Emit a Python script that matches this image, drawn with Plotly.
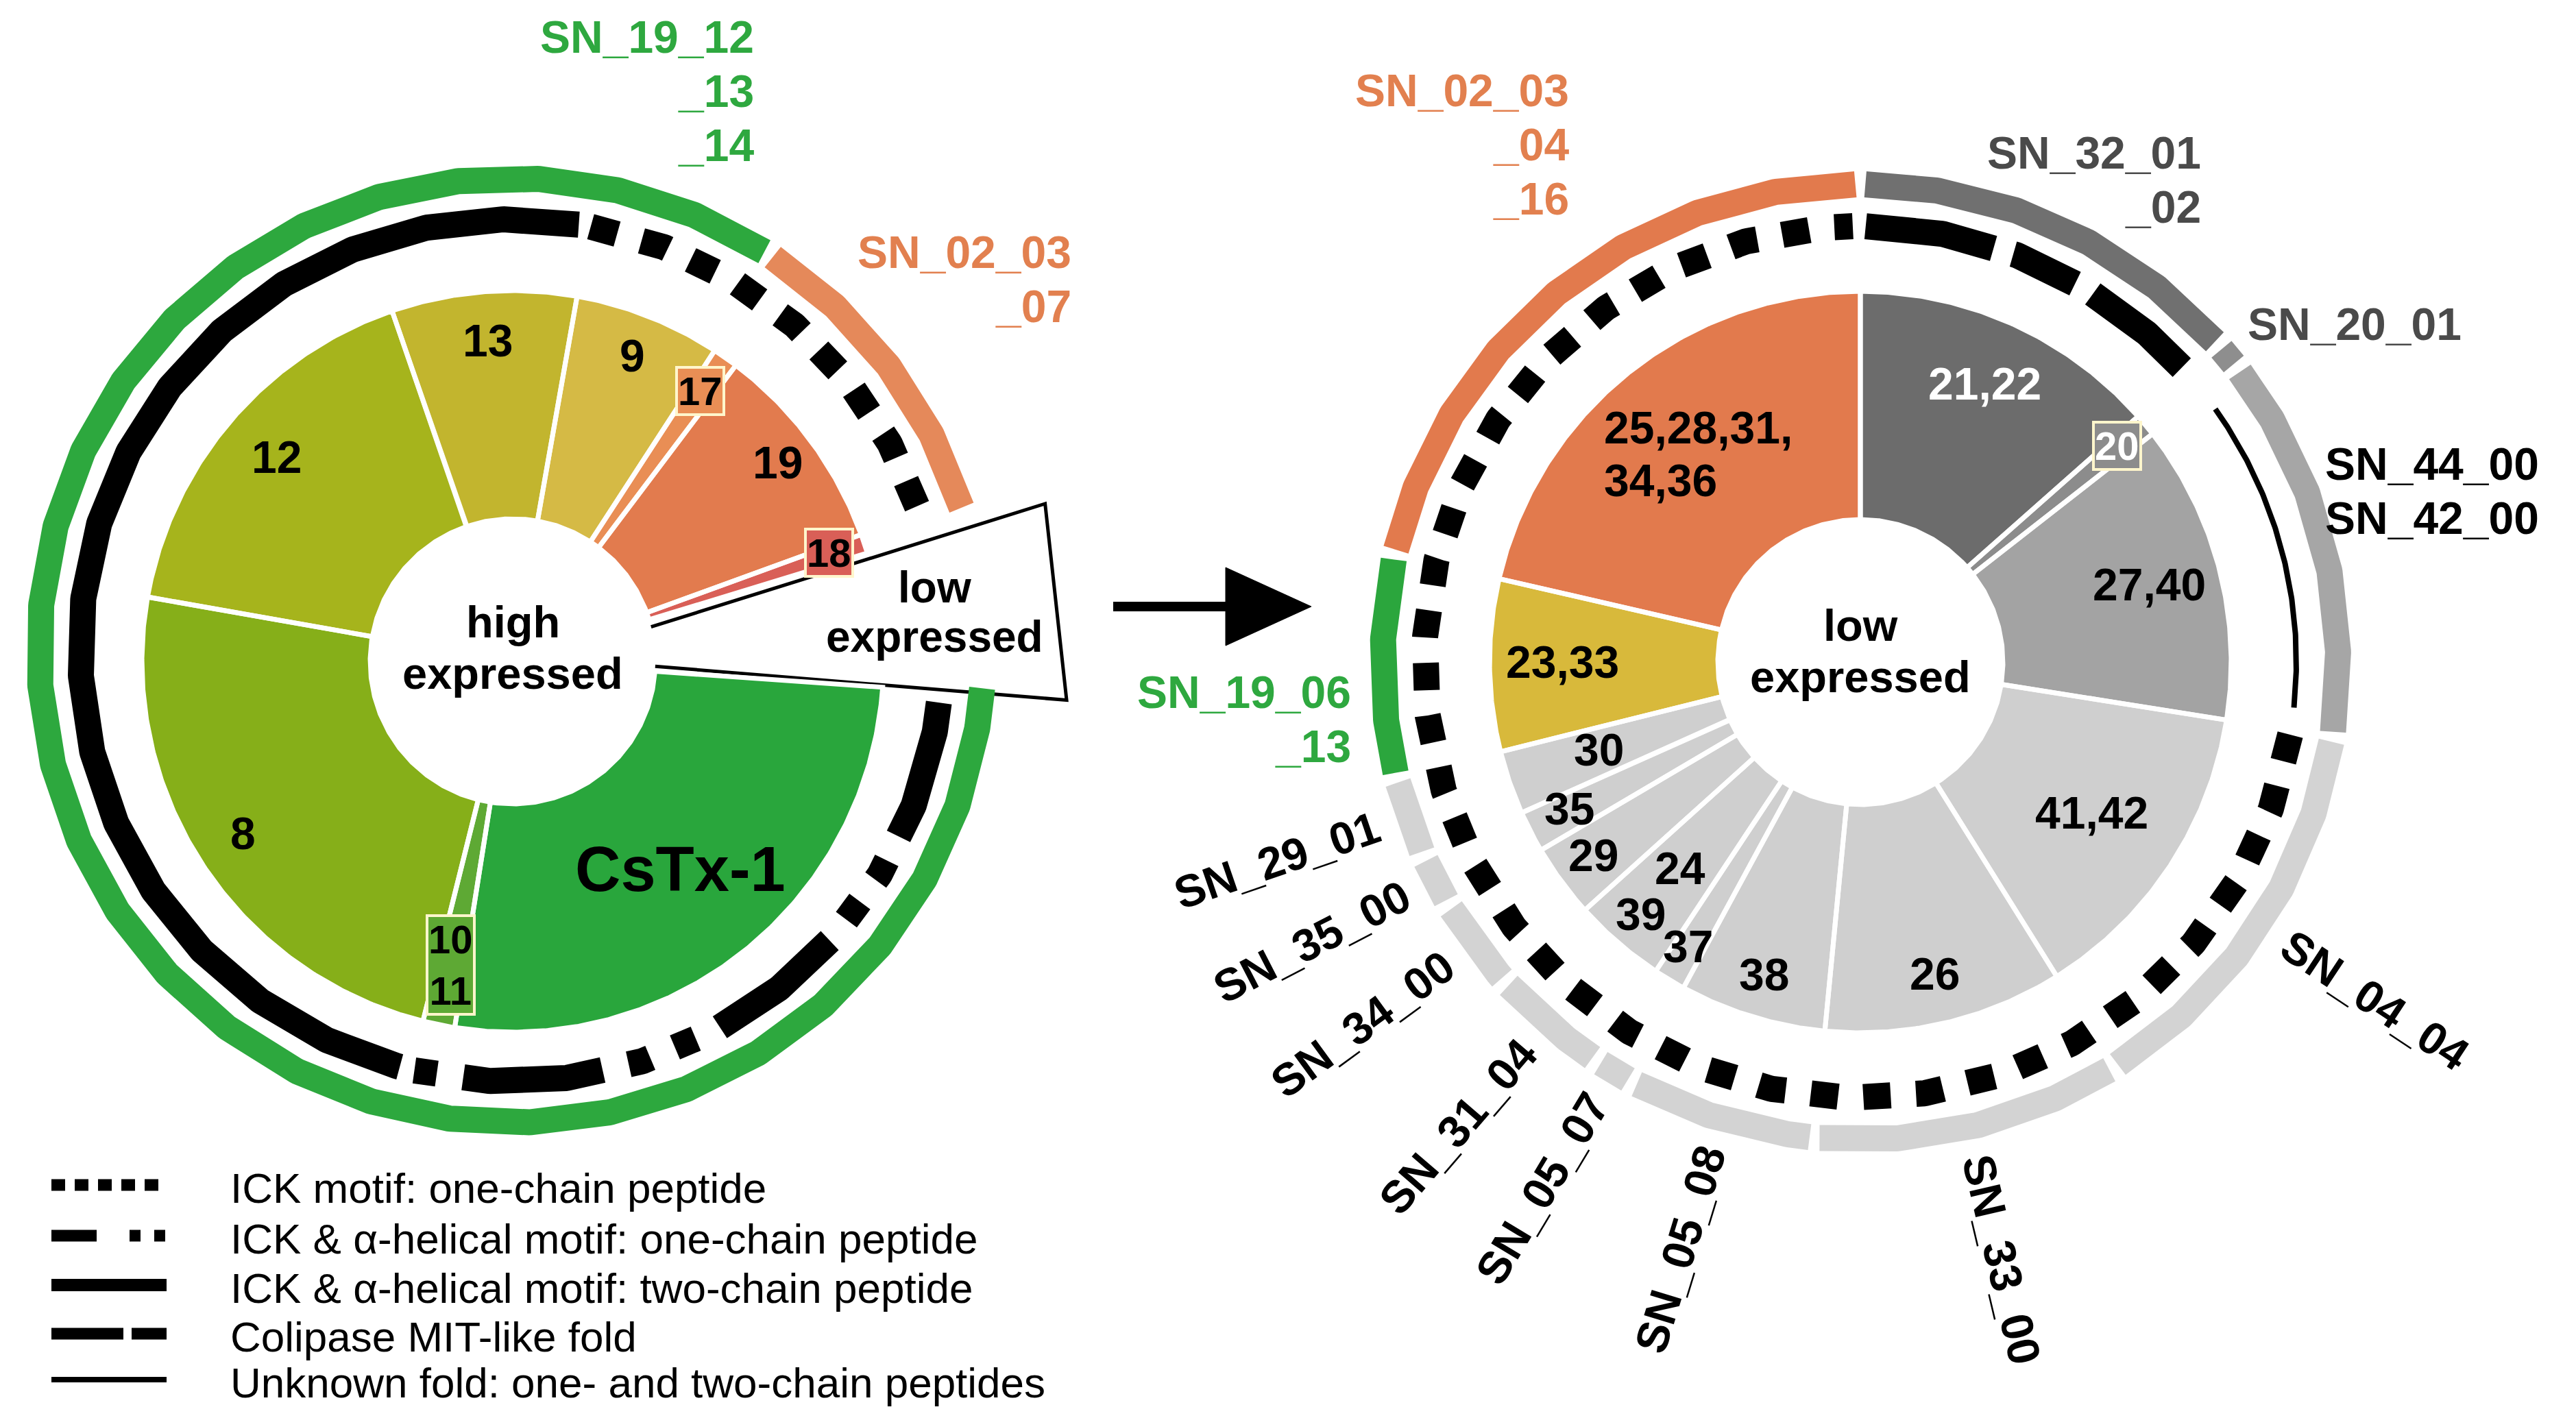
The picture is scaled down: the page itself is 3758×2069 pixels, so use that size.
import numpy as np
import plotly.graph_objects as go

W, H = 3758, 2069

# ---------------- data ----------------
# Left pie: high expressed transcripts; angular shares (deg, total 360), counter-clockwise
left_labels = ["low expressed", "18", "19", "17", "9", "13", "12", "8", "10<br>11", "CsTx-1"]
left_share = [21, 3, 33, 4, 23, 29, 61, 86, 5, 95]
left_fold = ["", "ick", "ick", "ick", "ick", "two", "two", "two", "ick_a1", "ick_a1"]
left_group = ["", "SN_02_03<br>_07", "SN_02_03<br>_07", "SN_02_03<br>_07",
              "SN_19_12<br>_13<br>_14", "SN_19_12<br>_13<br>_14", "SN_19_12<br>_13<br>_14",
              "SN_19_12<br>_13<br>_14", "SN_19_12<br>_13<br>_14", "SN_19_12<br>_13<br>_14"]

# Right pie: low expressed transcripts
right_labels = ["25,28,31,<br>34,36", "23,33", "30", "35", "29", "24|39", "37", "38",
                "26", "41,42", "27,40", "20", "21,22"]
right_share = [77, 27, 10, 6.5, 11.5, 14.5, 5, 23, 37.5, 49, 47, 3.5, 48.5]
right_fold = ["ick"] * 10 + ["unknown", "", "colipase"]
right_group = ["SN_02_03<br>_04<br>_16", "SN_19_06<br>_13", "SN_29_01", "SN_35_00",
               "SN_34_00", "SN_31_04", "SN_05_07", "SN_05_08", "SN_33_00", "SN_04_04",
               "SN_44_00<br>SN_42_00", "SN_20_01", "SN_32_01<br>_02"]

legend_folds = ["ick", "ick_a1", "two", "colipase", "unknown"]
legend_texts = ["ICK motif: one-chain peptide",
                "ICK & α-helical motif: one-chain peptide",
                "ICK & α-helical motif: two-chain peptide",
                "Colipase MIT-like fold",
                "Unknown fold: one- and two-chain peptides"]

# ---------------- style ----------------
FONT = "Liberation Sans, Arial, Helvetica, sans-serif"
OFF = 8            # page body margin of the exported html
TEXT_DY = -4
R_HOLE, R_PIE = 208, 541
W_RING = 38
PIES = {
    "left": dict(cx=748, cy=965, rcx=746, rcy=949, r_fold=629, r_group=689, start=-4,
                 center="high<br>expressed", center_dy=-16),
    "right": dict(cx=2714, cy=966, rcx=2714, rcy=966, r_fold=636, r_group=697, start=90,
                  center="low<br>expressed", center_dy=-12),
}
left_colors = ["#FFFFFF", "#D95F57", "#E27B4E", "#E98E55", "#D5BA45", "#C2B52E",
               "#A6B41C", "#86AF19", "#5EA934", "#29A63C"]
LG = "#CFCFCF"
right_colors = ["#E27A4D", "#D8B93B", LG, LG, LG, LG, LG, LG, LG, LG,
                "#A3A3A3", "#8C8C8C", "#6C6C6C"]
GROUP_COLOR = {
    "SN_19_12<br>_13<br>_14": "#2DA83E", "SN_02_03<br>_07": "#E5895A",
    "SN_02_03<br>_04<br>_16": "#E27A4D", "SN_19_06<br>_13": "#2BA63D",
    "SN_44_00<br>SN_42_00": "#A6A6A6", "SN_20_01": "#8E8E8E", "SN_32_01<br>_02": "#707070",
}
GROUP_TEXT = {
    "SN_19_12<br>_13<br>_14": "#2EA83F", "SN_02_03<br>_07": "#E2804F",
    "SN_02_03<br>_04<br>_16": "#E2804F", "SN_19_06<br>_13": "#2EA83F",
    "SN_20_01": "#4A4A4A", "SN_32_01<br>_02": "#4A4A4A",
}
# horizontal group labels: (angle, radius from pie centre, xanchor)
GROUP_POS = {
    "SN_19_12<br>_13<br>_14": (66.85, 900, "right"),
    "SN_02_03<br>_07": (34.14, 987, "right"),
    "SN_02_03<br>_04<br>_16": (119.4, 862, "right"),
    "SN_32_01<br>_02": (54.5, 859, "right"),
    "SN_20_01": (41.0, 746, "left"),
    "SN_44_00<br>SN_42_00": (20.0, 719, "left"),
    "SN_19_06<br>_13": (186.7, 746, "right"),
}
FOLD_STYLE = {
    "ick": dict(width=38, dash="40px,37px", inset=(1.0, 0.6), reverse=True),
    "ick_a1": dict(width=38, dash="33px,39px,205px,39px,33px,39px", inset=(1.0, 1.0), reverse=False),
    "two": dict(width=38, dash="solid", inset=(1.0, 1.0), reverse=False),
    "colipase": dict(width=38, dash="190px,30px,100px,30px", inset=(1.0, 0.7), reverse=True),
    "unknown": dict(width=8, dash="solid", inset=(3.0, 2.5), reverse=False),
}
LEGEND_STYLE = {
    "ick": dict(width=17, dash="20px,14px"),
    "ick_a1": dict(width=17, dash="66px,48px,16px,20px,16px,200px"),
    "two": dict(width=18, dash="solid"),
    "colipase": dict(width=17, dash="105px,12px,51px,100px"),
    "unknown": dict(width=8, dash="solid"),
}
LABEL_R = {"12": 453, "8": 469, "13": 465, "9": 475, "19": 481, "17": 477, "18": 487,
           "10<br>11": 456, "CsTx-1": 392, "low expressed": 619,
           "25,28,31,<br>34,36": 383, "21,22": 441, "27,40": 435, "41,42": 405, "26": 472,
           "38": 481, "23,33": 435, "30": 404, "35": 477, "29": 483, "24": 403, "39": 491,
           "37": 489, "20": 487}
BOXED = {"17": ("#E98E55", "black"), "18": ("#D95F57", "black"),
         "10<br>11": ("#5EA934", "black"), "20": ("#8C8C8C", "white")}
WHITE_TEXT = {"21,22", "20"}
CALLOUT = dict(r=810, inner_trim=(2.0, 3.0), outer_trim=(0.0, 0.5))

CHAR_W = {",": 0.278, "_": 0.556, "S": 0.667, "N": 0.722, " ": 0.278}


def est_width(text, size):
    return sum(CHAR_W.get(c, 0.556) for c in text) * size


def pol(cx, cy, r, a):
    t = np.radians(a)
    return cx + r * np.cos(t), cy - r * np.sin(t)


def arc(cx, cy, r, a0, a1, step=0.25):
    n = max(2, int(abs(a1 - a0) / step) + 1)
    return pol(cx, cy, r, np.linspace(a0, a1, n))


def spans(share, start):
    edges = start + np.concatenate([[0.0], np.cumsum(share)])
    return edges[:-1], edges[1:]


def runs(keys, a0, a1):
    out = []
    for k, s, e in zip(keys, a0, a1):
        if not k:
            continue
        if out and out[-1][0] == k and abs(out[-1][2] - s) < 1e-9:
            out[-1][2] = e
        else:
            out.append([k, s, e])
    return out


fig = go.Figure()
ann = []


def text(t, x, y, size, color="black", bold=True, xanchor="center", step=None, angle=0):
    lines = t.split("<br>")
    n = len(lines)
    step = step or size * 1.15
    for i, ln in enumerate(lines):
        ann.append(dict(x=x, y=y + TEXT_DY + (i - (n - 1) / 2) * step, xref="x", yref="y",
                        text=f"<b>{ln}</b>" if bold else ln, showarrow=False,
                        xanchor=xanchor, yanchor="middle", textangle=angle,
                        font=dict(family=FONT, size=size, color=color)))


def draw_pie(key, labels, share, folds, groups, colors):
    p = PIES[key]
    cx, cy = p["cx"], p["cy"]
    rcx, rcy = p["rcx"], p["rcy"]
    a0s, a1s = spans(share, p["start"])
    ox, oy = [], []
    for lab, a0, a1, col in zip(labels, a0s, a1s, colors):
        if lab == "low expressed":
            # exploded call-out wedge with straight outer edge
            i0, i1 = a0 + CALLOUT["inner_trim"][0], a1 - CALLOUT["inner_trim"][1]
            o0, o1 = a0 + CALLOUT["outer_trim"][0], a1 - CALLOUT["outer_trim"][1]
            xi, yi = arc(cx, cy, R_HOLE, i1, i0)
            x1, y1 = pol(cx, cy, CALLOUT["r"], o0)
            x2, y2 = pol(cx, cy, CALLOUT["r"], o1)
            xs = list(xi) + [x1, x2, xi[0]]
            ys = list(yi) + [y1, y2, yi[0]]
            fig.add_trace(go.Scatter(x=xs, y=ys, fill="toself", fillcolor="white",
                                     mode="lines", line=dict(width=0), hoverinfo="skip"))
            fig.add_trace(go.Scatter(x=[xi[-1], x1, x2, xi[0]], y=[yi[-1], y1, y2, yi[0]],
                                     mode="lines", line=dict(color="black", width=5),
                                     hoverinfo="skip"))
            lx, ly = pol(cx, cy, LABEL_R[lab], (a0 + a1) / 2 - 0.2)
            text("low<br>expressed", lx, ly, 64, step=72)
            continue
        xo, yo = arc(cx, cy, R_PIE, a0, a1)
        xi, yi = arc(cx, cy, R_HOLE, a1, a0)
        xs = np.concatenate([xo, xi, xo[:1]])
        ys = np.concatenate([yo, yi, yo[:1]])
        fig.add_trace(go.Scatter(x=xs, y=ys, fill="toself", fillcolor=col, mode="lines",
                                 line=dict(width=0), hoverinfo="skip"))
        ox += list(xs) + [None]
        oy += list(ys) + [None]
    fig.add_trace(go.Scatter(x=ox, y=oy, mode="lines", line=dict(color="white", width=7),
                             hoverinfo="skip"))
    # wedge labels
    for lab, a0, a1 in zip(labels, a0s, a1s):
        if lab == "low expressed":
            continue
        mid = (a0 + a1) / 2
        for part in lab.split("|"):
            r = LABEL_R.get(part, 460)
            x, y = pol(cx, cy, r, mid)
            if part in BOXED:
                bg, fc = BOXED[part]
                ann.append(dict(x=x, y=y + TEXT_DY, xref="x", yref="y", text=f"<b>{part}</b>",
                                showarrow=False, bgcolor=bg, bordercolor="#FFF6CC",
                                borderwidth=4, borderpad=0,
                                font=dict(family=FONT, size=58, color=fc)))
            elif part == "CsTx-1":
                text(part, x, y, 92)
            elif "<br>" in part:
                w = max(est_width(s, 66) for s in part.split("<br>"))
                text(part, x - w / 2, y, 66, xanchor="left", step=77)
            else:
                text(part, x, y, 66, color="white" if part in WHITE_TEXT else "black")
    # fold ring (dash styles)
    for f, a0, a1 in runs(folds, a0s, a1s):
        st = FOLD_STYLE[f]
        s, e = a0 + st["inset"][0], a1 - st["inset"][1]
        if st["reverse"]:
            s, e = e, s
        x, y = arc(rcx, rcy, p["r_fold"], s, e)
        fig.add_trace(go.Scatter(x=x, y=y, mode="lines", hoverinfo="skip",
                                 line=dict(color="black", width=st["width"], dash=st["dash"])))
    # outer group ring + labels
    for g, a0, a1 in runs(groups, a0s, a1s):
        x, y = arc(rcx, rcy, p["r_group"], a0 + 0.6, a1 - 0.6)
        fig.add_trace(go.Scatter(x=x, y=y, mode="lines", hoverinfo="skip",
                                 line=dict(color=GROUP_COLOR.get(g, "#D3D3D3"), width=W_RING)))
        tc = GROUP_TEXT.get(g, "black")
        if g in GROUP_POS:
            ang, r, xa = GROUP_POS[g]
            lx, ly = pol(cx, cy, r, ang)
            text(g, lx, ly, 66, color=tc, xanchor=xa, step=79)
        else:
            mid = ((a0 + a1) / 2) % 360
            lx, ly = pol(rcx, rcy, 900, mid)
            if np.cos(np.radians(mid)) >= 0:
                ta = -(((mid + 180) % 360) - 180)
            else:
                ta = -(mid - 180)
            text(g, lx, ly, 66, color=tc, angle=ta)
    text(p["center"], cx, cy + p["center_dy"], 65, step=75)


draw_pie("left", left_labels, left_share, left_fold, left_group, left_colors)
draw_pie("right", right_labels, right_share, right_fold, right_group, right_colors)

# arrow from the low expressed call-out to the right pie
AX0, AX1, AY, HEAD_L, HEAD_H = 1624, 1913, 885, 125, 57
fig.add_trace(go.Scatter(x=[AX0, AX1 - HEAD_L + 5], y=[AY, AY], mode="lines",
                         line=dict(color="black", width=14), hoverinfo="skip"))
fig.add_trace(go.Scatter(x=[AX1 - HEAD_L, AX1, AX1 - HEAD_L, AX1 - HEAD_L],
                         y=[AY - HEAD_H, AY, AY + HEAD_H, AY - HEAD_H],
                         fill="toself", fillcolor="black", mode="lines",
                         line=dict(color="black", width=1), hoverinfo="skip"))

# legend
LEG_X0, LEG_X1, LEG_TX = 75, 243, 334
LEG_Y = [1729, 1803, 1875, 1946, 2013]
for f, t, y in zip(legend_folds, legend_texts, LEG_Y):
    st = LEGEND_STYLE[f]
    fig.add_trace(go.Scatter(x=[LEG_X0, LEG_X1], y=[y, y], mode="lines", hoverinfo="skip",
                             line=dict(color="black", width=st["width"], dash=st["dash"])))
    text(t, LEG_TX, y + 8, 62, bold=False, xanchor="left")

fig.update_layout(width=W, height=H, margin=dict(l=0, r=0, t=0, b=0),
                  paper_bgcolor="white", plot_bgcolor="white", showlegend=False,
                  annotations=ann)
fig.update_xaxes(range=[OFF, W + OFF], visible=False, fixedrange=True)
fig.update_yaxes(range=[H + OFF, OFF], visible=False, fixedrange=True)
fig.write_html("out.html")
